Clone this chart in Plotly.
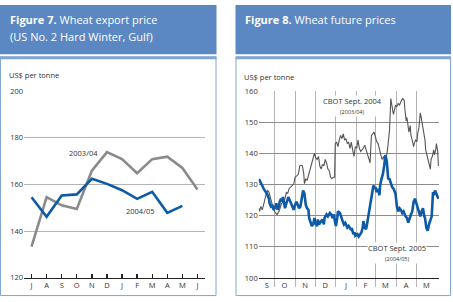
import plotly.graph_objects as go

# ---------------- data ----------------
months_left = ["J", "A", "S", "O", "N", "D", "J", "F", "M", "A", "M", "J"]
export_0304 = [133.3, 154.5, 151.0, 149.4, 165.9, 173.8, 170.8, 164.8, 170.8, 171.9, 167.0, 157.8]
export_0405 = [154.5, 146.1, 155.2, 155.7, 162.4, 160.2, 157.5, 153.8, 156.8, 147.8, 150.8, None]

cbot05_dates = [
    "2004-09-08", "2004-09-10", "2004-09-13", "2004-09-15", "2004-09-18", "2004-09-20", "2004-09-23",
    "2004-09-24", "2004-09-26", "2004-09-28", "2004-09-30", "2004-10-03", "2004-10-04", "2004-10-06",
    "2004-10-08", "2004-10-09", "2004-10-11", "2004-10-12", "2004-10-14", "2004-10-16", "2004-10-17",
    "2004-10-19", "2004-10-21", "2004-10-22", "2004-10-25", "2004-10-27", "2004-10-30", "2004-11-01",
    "2004-11-03", "2004-11-05", "2004-11-07", "2004-11-09", "2004-11-11", "2004-11-13", "2004-11-15",
    "2004-11-17", "2004-11-19", "2004-11-21", "2004-11-22", "2004-11-24", "2004-11-26", "2004-11-28",
    "2004-11-30", "2004-12-01", "2004-12-04", "2004-12-05", "2004-12-07", "2004-12-10", "2004-12-12",
    "2004-12-14", "2004-12-15", "2004-12-18", "2004-12-20", "2004-12-23", "2004-12-25", "2004-12-27",
    "2004-12-29", "2004-12-30", "2005-01-01", "2005-01-03", "2005-01-04", "2005-01-07", "2005-01-09",
    "2005-01-11", "2005-01-13", "2005-01-15", "2005-01-18", "2005-01-20", "2005-01-23", "2005-01-25",
    "2005-01-27", "2005-01-29", "2005-01-30", "2005-02-02", "2005-02-04", "2005-02-06", "2005-02-08",
    "2005-02-10", "2005-02-11", "2005-02-13", "2005-02-15", "2005-02-16", "2005-02-19", "2005-02-20",
    "2005-02-22", "2005-02-24", "2005-02-26", "2005-02-28", "2005-03-01", "2005-03-03", "2005-03-05",
    "2005-03-07", "2005-03-08", "2005-03-10", "2005-03-12", "2005-03-14", "2005-03-16", "2005-03-18",
    "2005-03-20", "2005-03-22", "2005-03-24", "2005-03-26", "2005-03-28", "2005-03-31", "2005-04-02",
    "2005-04-04", "2005-04-06", "2005-04-08", "2005-04-10", "2005-04-12", "2005-04-15", "2005-04-17",
    "2005-04-19", "2005-04-21", "2005-04-23", "2005-04-25", "2005-04-27", "2005-04-29", "2005-05-01",
    "2005-05-03", "2005-05-05", "2005-05-07", "2005-05-09", "2005-05-11", "2005-05-13", "2005-05-14",
    "2005-05-16", "2005-05-18", "2005-05-20", "2005-05-22", "2005-05-24", "2005-05-26", "2005-05-27",
    "2005-05-29", "2005-05-31", "2005-06-02", "2005-06-03",
]
cbot05_values = [
    131.8, 130.7, 129.7, 128.7, 127.8, 127.1, 125.5,
    124.0, 123.0, 123.5, 121.9, 123.0, 124.0, 121.9,
    123.0, 124.5, 125.5, 124.5, 126.0, 123.5, 122.4,
    124.0, 125.0, 126.0, 124.5, 123.5, 121.9, 123.5,
    124.5, 123.5, 122.4, 123.0, 125.5, 128.1, 127.1,
    123.5, 122.4, 121.9, 119.3, 118.3, 116.7, 117.2,
    119.3, 117.7, 116.7, 118.8, 117.2, 118.3, 118.8,
    117.2, 119.3, 120.4, 119.8, 120.9, 120.4, 119.3,
    120.4, 118.8, 116.7, 119.3, 121.4, 120.9, 119.3,
    118.3, 117.2, 117.7, 116.2, 116.7, 115.7, 115.7,
    114.1, 114.6, 113.6, 114.1, 113.3, 114.1, 114.6,
    116.2, 118.3, 116.2, 115.7, 116.7, 120.4, 122.4,
    123.5, 126.6, 129.7, 128.7, 129.2, 127.6, 128.7,
    126.6, 129.7, 131.8, 133.3, 136.0, 139.5, 137.4,
    132.0, 131.8, 130.2, 129.2, 128.7, 127.1, 123.0,
    121.4, 122.4, 121.9, 120.9, 121.4, 119.8, 119.3,
    117.8, 119.3, 120.4, 121.4, 124.5, 125.5, 124.0,
    122.4, 120.9, 119.8, 121.4, 122.4, 119.8, 119.3,
    116.2, 115.2, 117.2, 118.8, 119.8, 127.6, 126.6,
    128.1, 127.1, 126.6, 125.5,
]

cbot04_dates = [
    "2004-09-08", "2004-09-09", "2004-09-11", "2004-09-13", "2004-09-15", "2004-09-17", "2004-09-19",
    "2004-09-21", "2004-09-23", "2004-09-25", "2004-09-27", "2004-09-30", "2004-10-03", "2004-10-05",
    "2004-10-08", "2004-10-10", "2004-10-12", "2004-10-15", "2004-10-17", "2004-10-19", "2004-10-21",
    "2004-10-23", "2004-10-25", "2004-10-27", "2004-10-30", "2004-10-31", "2004-11-01", "2004-11-04",
    "2004-11-06", "2004-11-08", "2004-11-10", "2004-11-12", "2004-11-14", "2004-11-15", "2004-11-17",
    "2004-11-19", "2004-11-21", "2004-11-24", "2004-11-26", "2004-11-29", "2004-11-30", "2004-12-02",
    "2004-12-04", "2004-12-06", "2004-12-08", "2004-12-10", "2004-12-12", "2004-12-14", "2004-12-16",
    "2004-12-18", "2004-12-20", "2004-12-22", "2004-12-24", "2004-12-26", "2004-12-28", "2004-12-30",
    "2004-12-31", "2005-01-02", "2005-01-04", "2005-01-06", "2005-01-08", "2005-01-10", "2005-01-12",
    "2005-01-14", "2005-01-16", "2005-01-18", "2005-01-20", "2005-01-22", "2005-01-24", "2005-01-26",
    "2005-01-28", "2005-01-30", "2005-02-01", "2005-02-03", "2005-02-05", "2005-02-07", "2005-02-09",
    "2005-02-11", "2005-02-13", "2005-02-15", "2005-02-17", "2005-02-19", "2005-02-21", "2005-02-23",
    "2005-02-25", "2005-02-27", "2005-03-01", "2005-03-03", "2005-03-05", "2005-03-07", "2005-03-09",
    "2005-03-11", "2005-03-13", "2005-03-15", "2005-03-17", "2005-03-19", "2005-03-21", "2005-03-22",
    "2005-03-24", "2005-03-25", "2005-03-27", "2005-03-28", "2005-03-30", "2005-03-31", "2005-04-02",
    "2005-04-04", "2005-04-06", "2005-04-08", "2005-04-09", "2005-04-11", "2005-04-13", "2005-04-14",
    "2005-04-16", "2005-04-17", "2005-04-19", "2005-04-20", "2005-04-22", "2005-04-23", "2005-04-25",
    "2005-04-27", "2005-04-28", "2005-04-30", "2005-05-02", "2005-05-03", "2005-05-05", "2005-05-07",
    "2005-05-08", "2005-05-10", "2005-05-12", "2005-05-14", "2005-05-15", "2005-05-17", "2005-05-19",
    "2005-05-20", "2005-05-22", "2005-05-23", "2005-05-25", "2005-05-27", "2005-05-28", "2005-05-30",
    "2005-05-31", "2005-06-02", "2005-06-03",
]
cbot04_values = [
    122.4, 121.4, 123.0, 121.9, 123.5, 125.5, 127.1,
    128.1, 127.6, 126.0, 124.5, 121.9, 120.9, 120.4,
    121.4, 123.0, 124.0, 124.5, 125.5, 127.6, 127.1,
    128.7, 129.2, 129.7, 130.2, 131.2, 132.4, 132.9,
    133.4, 136.0, 136.2, 136.0, 133.4, 130.3, 131.9,
    131.4, 132.9, 135.0, 137.0, 139.6, 140.1, 138.6,
    138.1, 139.1, 136.0, 135.0, 136.5, 136.0, 138.1,
    137.0, 135.0, 134.5, 132.4, 131.9, 132.4, 132.4,
    143.2, 143.7, 142.2, 144.3, 145.8, 144.8, 146.3,
    144.3, 144.8, 143.2, 143.7, 141.7, 143.7, 141.2,
    139.1, 142.2, 141.7, 144.3, 141.7, 140.7, 141.2,
    141.7, 142.7, 141.2, 140.1, 138.1, 137.0, 145.8,
    146.3, 146.9, 145.3, 143.8, 143.2, 140.7, 139.6,
    138.1, 139.1, 137.6, 138.6, 141.2, 146.9, 147.4,
    157.7, 155.6, 153.6, 152.6, 154.1, 155.6, 155.1,
    156.1, 155.6, 157.1, 157.1, 157.7, 157.1, 154.1,
    150.5, 151.6, 149.0, 146.9, 149.0, 145.8, 144.3,
    142.2, 143.2, 144.3, 143.8, 146.3, 148.4, 153.1,
    152.0, 149.5, 146.3, 144.3, 141.2, 139.1, 138.1,
    137.0, 135.0, 138.1, 139.1, 141.2, 139.6, 141.2,
    143.2, 140.7, 136.0,
]

month_starts = ["2004-10-01", "2004-11-01", "2004-12-01", "2005-01-01", "2005-02-01",
                "2005-03-01", "2005-04-01", "2005-05-01"]
month_mids = ["2004-09-20", "2004-10-16", "2004-11-16", "2004-12-16", "2005-01-16",
              "2005-02-14", "2005-03-16", "2005-04-16", "2005-05-16"]
months_right = ["S", "O", "N", "D", "J", "F", "M", "A", "M"]

# ---------------- layout helpers ----------------
W, H = 453, 302
def px(x):
    return x / W
def py(y):
    return 1 - y / H

FONT = "Open Sans"
HEAD = "#5b88c2"
BORDER = "#80a6d6"
BLUE = "#0d5aa7"
TXT = "#333333"

fig = go.Figure()

fig.add_trace(go.Scatter(x=list(range(len(months_left))), y=export_0304, mode="lines",
                         line=dict(color="#8a8a8a", width=2.6), xaxis="x", yaxis="y"))
fig.add_trace(go.Scatter(x=list(range(len(months_left))), y=export_0405, mode="lines",
                         line=dict(color=BLUE, width=2.6), xaxis="x", yaxis="y"))
fig.add_trace(go.Scatter(x=cbot04_dates, y=cbot04_values, mode="lines",
                         line=dict(color="#555555", width=1.1), xaxis="x2", yaxis="y2"))
fig.add_trace(go.Scatter(x=cbot05_dates, y=cbot05_values, mode="lines",
                         line=dict(color=BLUE, width=2.6), xaxis="x2", yaxis="y2"))

tickfont = dict(family=FONT, size=7.5, color=TXT)

fig.update_layout(
    width=W, height=H, margin=dict(l=0, r=0, t=0, b=0),
    paper_bgcolor="white", plot_bgcolor="rgba(0,0,0,0)", showlegend=False,
    font=dict(family=FONT, color=TXT), hovermode=False,
    xaxis=dict(domain=[px(24), px(205)], range=[-0.5, 11.5],
               tickmode="array", tickvals=list(range(12)), ticktext=months_left,
               ticks="inside", ticklen=4, tickwidth=1.3, tickcolor="#222",
               showline=True, linecolor="#222", linewidth=1.4, showgrid=False,
               zeroline=False, tickfont=tickfont, fixedrange=True),
    yaxis=dict(domain=[py(282), py(89)], range=[120, 200], anchor="x",
               tickmode="array", tickvals=[120, 140, 160, 180, 200],
               showgrid=True, gridcolor="#b4b4b4", gridwidth=1, zeroline=False,
               showline=False, ticks="", tickfont=tickfont),
    xaxis2=dict(domain=[px(258.7), px(439)], range=["2004-09-07 17:00", "2005-06-03 22:00"],
                type="date", anchor="y2",
                tickmode="array", tickvals=month_mids, ticktext=months_right,
                ticks="", showgrid=False, zeroline=False,
                showline=True, linecolor="#222", linewidth=1.4,
                minor=dict(tickmode="array", tickvals=month_starts, ticks="outside",
                           ticklen=8, tickcolor="#b4b4b4", tickwidth=1,
                           showgrid=True, gridcolor="#b4b4b4", gridwidth=1),
                tickfont=tickfont),
    yaxis2=dict(domain=[py(282.3), py(89.3)], range=[100, 160], anchor="x2",
                tickmode="array", tickvals=[100, 110, 120, 130, 140, 150, 160],
                showgrid=True, gridcolor="#8c8c8c", gridwidth=1, zeroline=False,
                showline=False, ticks="", tickfont=tickfont),
)

shapes = []
# headers
for x0, x1 in [(0, 216.5), (235.5, 451)]:
    shapes.append(dict(type="rect", xref="paper", yref="paper", layer="below",
                       x0=px(x0), x1=px(x1), y0=py(51), y1=py(0),
                       fillcolor=HEAD, line=dict(width=0)))
    shapes.append(dict(type="rect", xref="paper", yref="paper", layer="below",
                       x0=px(x0), x1=px(x1), y0=py(56), y1=py(53),
                       fillcolor=BORDER, line=dict(width=0)))
# panel borders
for x0, x1 in [(0.5, 216), (236, 450.5)]:
    shapes.append(dict(type="rect", xref="paper", yref="paper", layer="below",
                       x0=px(x0), x1=px(x1), y0=py(300.5), y1=py(54),
                       fillcolor="rgba(0,0,0,0)", line=dict(color=BORDER, width=1)))
fig.update_layout(shapes=shapes)

ann = []
def txt(x, y, s, size, color=TXT, xanchor="center", bg=None):
    d = dict(xref="paper", yref="paper", x=px(x), y=py(y), text=s, showarrow=False,
             xanchor=xanchor, yanchor="middle",
             font=dict(family=FONT, size=size, color=color))
    if bg:
        d["bgcolor"] = bg
        d["borderpad"] = 0
    ann.append(d)

txt(8, 14.5, "<b>Figure 7.</b> Wheat export price", 11, "white", "left")
txt(8, 33, "(US No. 2 Hard Winter, Gulf)", 11, "white", "left")
txt(243, 14.5, "<b>Figure 8.</b> Wheat future prices", 11, "white", "left")
txt(7, 72.5, "US$ per tonne", 7.5, TXT, "left")
txt(242, 74, "US$ per tonne", 7.5, TXT, "left")
txt(83, 153, "2003/04", 7.5)
txt(140, 213, "2004/05", 7.5)
txt(352.5, 104, "CBOT Sept. 2004<br><span style='font-size:5.5px'>(2003/04)</span>", 7.5, bg="white")
txt(397, 256.5, "CBOT Sept. 2005<br><span style='font-size:5.5px'>(2004/05)</span>", 7.5, bg="white")
fig.update_layout(annotations=ann)

fig.write_html("out.html", config={"displayModeBar": False, "staticPlot": True},
               post_script="document.body.style.margin='0';document.body.style.overflow='hidden';")
